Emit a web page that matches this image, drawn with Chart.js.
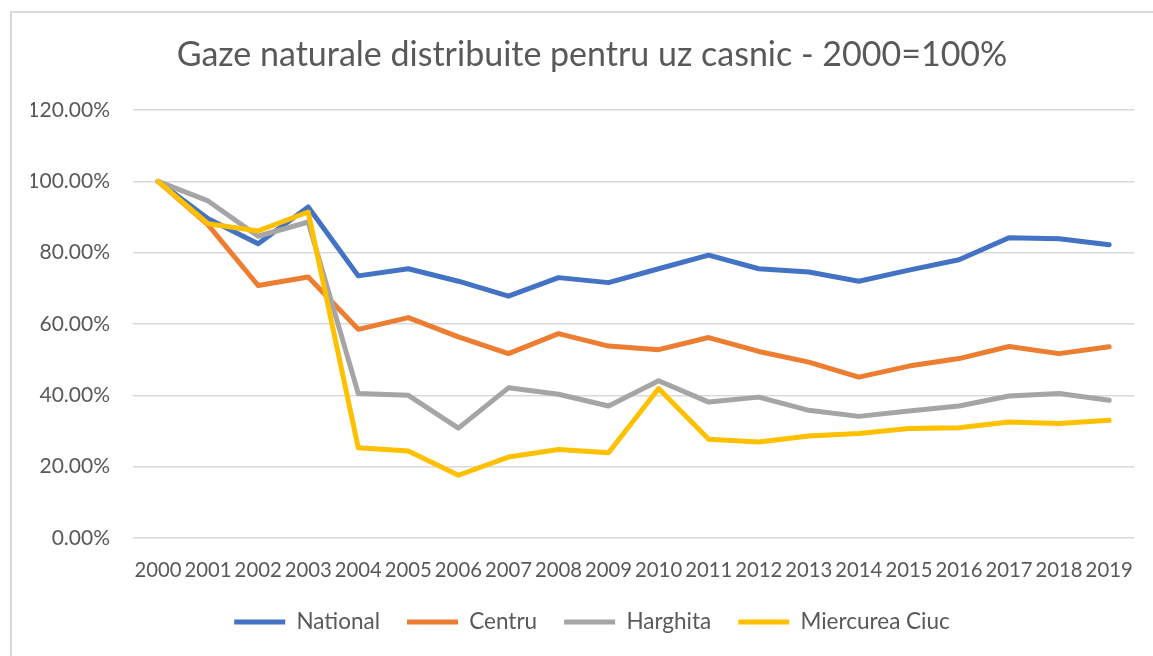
<!DOCTYPE html>
<html>
<head>
<meta charset="utf-8">
<script src="https://cdn.jsdelivr.net/npm/chart.js@4.4.1/dist/chart.umd.min.js"></script>
<style>
  html, body { margin: 0; padding: 0; background: #fff; overflow: hidden; }
  #wrap { position: relative; width: 1153px; height: 656px; }
  #frame {
    position: absolute; left: 10px; top: 11px; width: 1200px; height: 700px;
    border: 2px solid #d9d9d9; box-sizing: border-box; pointer-events: none;
  }
  canvas { position: absolute; left: 0; top: 0; }
</style>
</head>
<body>
<div id="wrap">
  <div id="frame"></div>
  <canvas id="myChart" width="1153" height="656"></canvas>
</div>
<script>
const years = ['2000', '2001', '2002', '2003', '2004', '2005', '2006', '2007', '2008', '2009',
  '2010', '2011', '2012', '2013', '2014', '2015', '2016', '2017', '2018', '2019'];

// index values, 2000 = 100%
const national = [100, 89.5, 82.5, 92.8, 73.5, 75.5, 72.0, 67.8, 73.0, 71.6,
  75.5, 79.3, 75.5, 74.6, 72.0, 75.1, 78.0, 84.2, 83.9, 82.2];
const centru = [100, 87.8, 70.8, 73.2, 58.5, 61.8, 56.4, 51.7, 57.3, 53.8,
  52.8, 56.2, 52.3, 49.3, 45.1, 48.2, 50.3, 53.7, 51.7, 53.6];
const harghita = [100, 94.5, 84.6, 88.6, 40.5, 40.0, 30.8, 42.1, 40.3, 37.0,
  44.1, 38.1, 39.5, 35.8, 34.1, 35.6, 37.0, 39.8, 40.5, 38.6];
const miercureaCiuc = [100, 88.1, 86.1, 91.4, 25.3, 24.4, 17.6, 22.7, 24.8, 23.9,
  41.9, 27.7, 26.9, 28.6, 29.3, 30.7, 30.9, 32.5, 32.1, 33.0];

const seriesNames = ['National', 'Centru', 'Harghita', 'Miercurea Ciuc'];
const seriesColors = ['#4472C4', '#ED7D31', '#A5A5A5', '#FFC000'];

const yMin = 0;
const yMax = 120;
const yStep = 20;

const textColor = '#595959';
const gridColor = '#d9d9d9';
const fontFamily = 'Lato, "Open Sans", sans-serif';

const lineSet = (i, values) => ({
  label: seriesNames[i],
  data: values,
  borderColor: seriesColors[i],
  backgroundColor: seriesColors[i],
  borderWidth: 5,
  borderCapStyle: 'round',
  borderJoinStyle: 'round',
  pointRadius: 0,
  pointHoverRadius: 0,
  tension: 0,
  // later series are painted over earlier ones
  order: 3 - i
});

const ctx = document.getElementById('myChart');
new Chart(ctx, {
  type: 'line',
  data: {
    labels: years,
    datasets: [
      lineSet(0, national),
      lineSet(1, centru),
      lineSet(2, harghita),
      lineSet(3, miercureaCiuc)
    ]
  },
  options: {
    responsive: false,
    animation: false,
    devicePixelRatio: 1,
    layout: { padding: { left: 31, right: 0, top: 0, bottom: 12.75 } },
    plugins: {
      title: {
        display: true,
        text: 'Gaze naturale distribuite pentru uz casnic - 2000=100%',
        color: textColor,
        font: { family: fontFamily, size: 34, weight: 'normal', lineHeight: 1.2 },
        padding: { top: 34.6, bottom: 34.6 }
      },
      legend: {
        position: 'bottom',
        labels: {
          usePointStyle: true,
          pointStyle: 'line',
          pointStyleWidth: 51,
          padding: 27,
          color: textColor,
          font: { family: fontFamily, size: 22.5 },
          sort: (a, b) => a.datasetIndex - b.datasetIndex
        }
      },
      tooltip: { enabled: false }
    },
    scales: {
      x: {
        offset: true,
        grid: { display: false, drawTicks: false },
        border: { display: false },
        ticks: {
          color: textColor,
          font: { family: fontFamily, size: 20.3 },
          padding: 20,
          autoSkip: false,
          maxRotation: 0,
          minRotation: 0
        },
        afterFit: (scale) => { scale.height = 45.75; }
      },
      y: {
        min: yMin,
        max: yMax,
        grid: { color: gridColor, lineWidth: 1.5, drawTicks: false },
        border: { display: false },
        ticks: {
          stepSize: yStep,
          color: textColor,
          font: { family: fontFamily, size: 21 },
          padding: 23,
          callback: (v) => v.toFixed(2) + '%'
        },
        afterFit: (scale) => { scale.width = 102; }
      },
      yRight: {
        position: 'right',
        display: true,
        grid: { display: false, drawTicks: false },
        border: { display: false },
        ticks: { display: false },
        afterFit: (scale) => { scale.width = 13; }
      }
    }
  }
});
</script>
</body>
</html>
